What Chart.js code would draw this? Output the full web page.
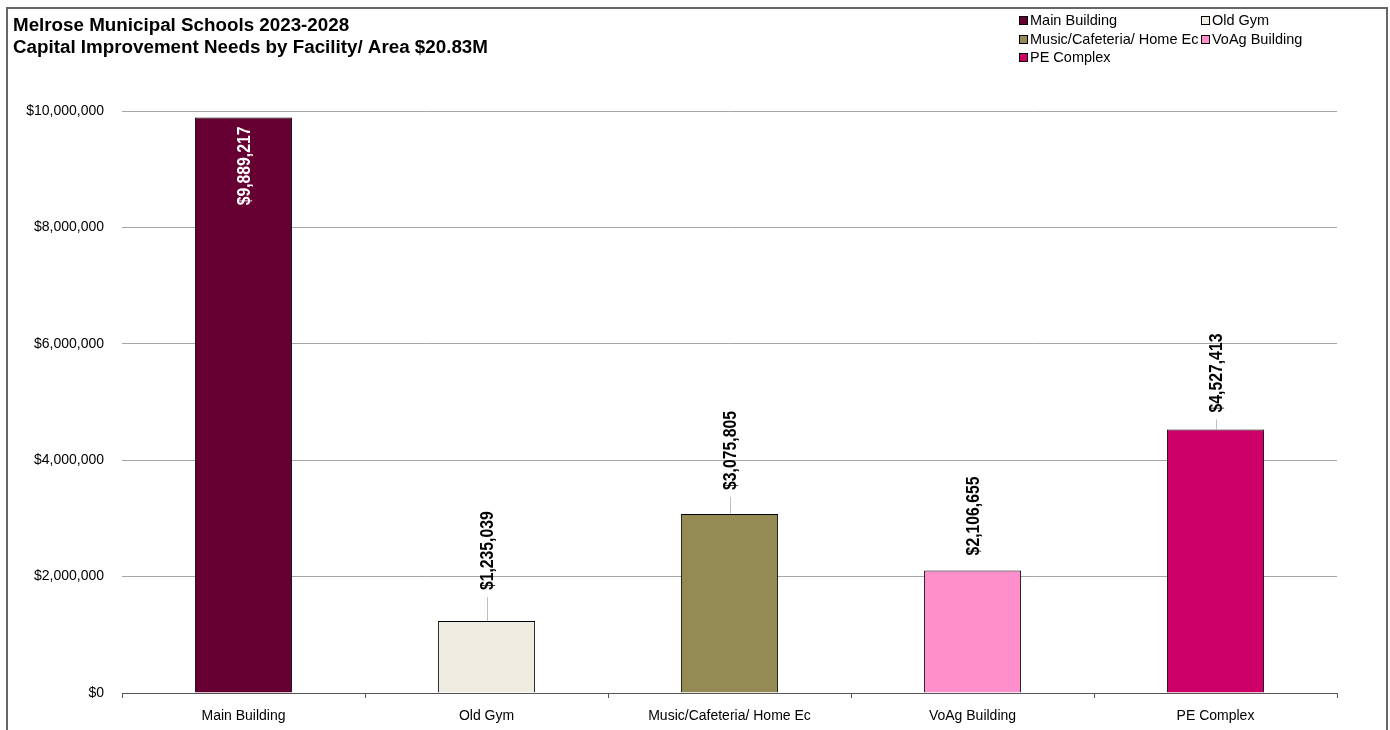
<!DOCTYPE html>
<html>
<head>
<meta charset="utf-8">
<script src="https://cdn.jsdelivr.net/npm/chart.js@4.4.0/dist/chart.umd.min.js"></script>
<style>
html,body{margin:0;padding:0;background:#fff;}
#wrap{width:1390px;height:730px;position:relative;}
</style>
</head>
<body>
<div id="wrap"><canvas id="c" width="1390" height="730"></canvas></div>
<script>
// ---- data ----
const titleLines = ['Melrose Municipal Schools 2023-2028', 'Capital Improvement Needs by Facility/ Area $20.83M'];
const categories = ['Main Building', 'Old Gym', 'Music/Cafeteria/ Home Ec', 'VoAg Building', 'PE Complex'];
const values = [9889217, 1235039, 3075805, 2106655, 4527413];
const yTickValues = [0, 2000000, 4000000, 6000000, 8000000, 10000000];

// ---- style ----
const barColors = ['#660033', '#EEEBE0', '#948A54', '#FF8FCB', '#CC0066'];
const labelGap = [null, 31, 24, 15, 17];      // null => inside bar
const labelLeader = [false, true, true, false, true];
const FONT = '"Liberation Sans", Arial, sans-serif';

const fmt = v => '$' + Math.round(v).toLocaleString('en-US');

const decor = {
  id: 'decor',
  afterDraw(chart) {
    const ctx = chart.ctx;
    ctx.save();
    // frame
    ctx.strokeStyle = '#666';
    ctx.lineWidth = 2;
    ctx.strokeRect(7, 8, 1380, 740);
    // title
    ctx.fillStyle = '#000';
    ctx.font = 'bold 18.8px ' + FONT;
    ctx.textBaseline = 'alphabetic';
    ctx.textAlign = 'left';
    ctx.fillText(titleLines[0], 13, 31);
    ctx.fillText(titleLines[1], 13, 53);
    // legend
    const colX = [1019, 1201];
    const rowY = [20, 38.5, 57];
    ctx.font = '14.5px ' + FONT;
    ctx.textBaseline = 'middle';
    categories.forEach((c, i) => {
      const cx = colX[i % 2], cy = Math.round(rowY[Math.floor(i / 2)]);
      ctx.fillStyle = barColors[i];
      ctx.fillRect(cx, cy - 4, 9, 9);
      ctx.strokeStyle = '#000';
      ctx.lineWidth = 1;
      ctx.strokeRect(cx + 0.5, cy - 3.5, 8, 8);
      ctx.fillStyle = '#000';
      ctx.fillText(c, cx + 11, cy + 1);
    });
    // data labels
    const meta = chart.getDatasetMeta(0);
    meta.data.forEach((bar, i) => {
      const x = bar.x, top = bar.y;
      const txt = fmt(values[i]);
      ctx.save();
      if (labelGap[i] === null) {
        ctx.translate(x, top + 9);
        ctx.rotate(-Math.PI / 2);
        ctx.scale(0.83, 1);
        ctx.fillStyle = '#fff';
        ctx.textAlign = 'right';
      } else {
        const start = top - labelGap[i];
        if (labelLeader[i]) {
          ctx.strokeStyle = '#c0c0c0';
          ctx.lineWidth = 1;
          ctx.beginPath();
          ctx.moveTo(Math.round(x) + 0.5, start + 7);
          ctx.lineTo(Math.round(x) + 0.5, top);
          ctx.stroke();
        }
        ctx.translate(x, start);
        ctx.rotate(-Math.PI / 2);
        ctx.scale(0.83, 1);
        ctx.fillStyle = '#000';
        ctx.textAlign = 'left';
      }
      ctx.textBaseline = 'middle';
      ctx.font = 'bold 19px ' + FONT;
      ctx.fillText(txt, 0, 1);
      ctx.restore();
    });
    ctx.restore();
  }
};

new Chart(document.getElementById('c'), {
  type: 'bar',
  data: {
    labels: categories,
    datasets: [{
      data: values,
      backgroundColor: barColors,
      borderColor: '#000',
      borderWidth: 1,
      barPercentage: 0.4,
      categoryPercentage: 1.0
    }]
  },
  options: {
    responsive: false,
    animation: false,
    devicePixelRatio: 1,
    layout: { padding: { left: 0, right: 53, top: 111, bottom: 0 } },
    plugins: { legend: { display: false }, title: { display: false }, tooltip: { enabled: false } },
    scales: {
      y: {
        min: 0, max: 10000000,
        afterBuildTicks: s => { s.ticks = yTickValues.map(v => ({ value: v })); },
        afterFit: s => { s.width = 122; },
        grid: { color: '#a6a6a6', lineWidth: 1, drawTicks: false },
        border: { display: false },
        ticks: { padding: 18, color: '#000', font: { family: FONT, size: 14 }, callback: v => fmt(v) }
      },
      x: {
        afterFit: s => { s.height = 37; },
        grid: { offset: true, drawOnChartArea: false, drawTicks: true, tickLength: 5, color: '#555' },
        border: { color: '#555', width: 1 },
        ticks: { padding: 10, color: '#000', maxRotation: 0, font: { family: FONT, size: 14 } }
      }
    }
  },
  plugins: [decor]
});
</script>
</body>
</html>
